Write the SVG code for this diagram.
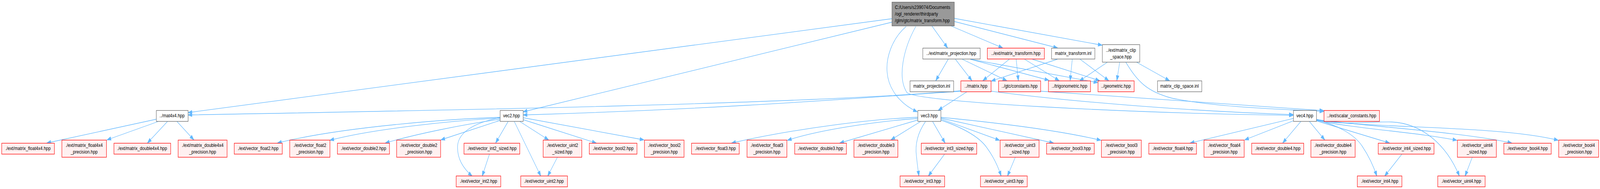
<svg xmlns="http://www.w3.org/2000/svg" width="5133" height="485" viewBox="0 0 5133 485">
<style>
.t{font-family:"Liberation Sans",Arial,sans-serif;font-size:13.33px;fill:#000;text-anchor:middle}
.tl{font-family:"Liberation Sans",Arial,sans-serif;font-size:13.33px;fill:#000}
.w{fill:#fff;stroke:#666;stroke-width:1.3}
.r{fill:#fff0f0;stroke:#ff0000;stroke-width:1.3}
.g{fill:#999;stroke:#666;stroke-width:1.3}
.e{fill:none;stroke:#63b8ff;stroke-width:1.3;marker-end:url(#a)}
#fit{width:100vw;height:485px}
</style>
<defs>
<marker id="a" markerUnits="userSpaceOnUse" markerWidth="15" markerHeight="11" refX="13" refY="5" orient="auto" overflow="visible">
<path d="M0,0.5 L13,5 L0,9.5 z" fill="#63b8ff" stroke="#63b8ff" stroke-width="1"/>
</marker>
</defs>
<rect width="100%" height="100%" fill="#fff"/>
<svg id="fit" x="0" y="0" width="5133" height="485" viewBox="0 0 5133 485" preserveAspectRatio="none">
<g id="edges">
<path class="e" d="M2861,48 L603,289"/>
<path class="e" d="M2861,57 L1678,287"/>
<path class="e" d="M2907,68 C2860,100 2842,150 2846,185 C2850,230 2890,268 2943,287"/>
<path class="e" d="M2938,68 C2898,125 2878,200 2910,238 C2950,262 3600,290 4149,296"/>
<path class="e" d="M2990,67 L3040,123"/>
<path class="e" d="M3052,67 L3217,123"/>
<path class="e" d="M3061,55 L3393,123"/>
<path class="e" d="M3061,47 L3536,116"/>
<path class="e" d="M3042,152 L3002,207"/>
<path class="e" d="M3065,152 L3118,207"/>
<path class="e" d="M3087,152 L3230,207"/>
<path class="e" d="M3113,152 L3365,206"/>
<path class="e" d="M3113,152 L3522,212"/>
<path class="e" d="M3238,152 L3153,207"/>
<path class="e" d="M3260,152 L3267,207"/>
<path class="e" d="M3287,152 L3398,207"/>
<path class="e" d="M3312,152 L3528,207"/>
<path class="e" d="M3392,152 L3180,208"/>
<path class="e" d="M3440,152 L3433,207"/>
<path class="e" d="M3465,152 L3557,207"/>
<path class="e" d="M3552,160 L3463,208"/>
<path class="e" d="M3592,160 L3583,207"/>
<path class="e" d="M3647,160 L3752,207"/>
<path class="e" d="M3612,160 C3650,210 3680,235 3760,252 C3900,275 4100,280 4247,286"/>
<path class="e" d="M3338,234 C3600,247 3950,268 4247,284"/>
<path class="e" d="M3082,233 C2600,266 1500,282 603,295"/>
<path class="e" d="M3082,234 C2700,255 2300,280 1678,295"/>
<path class="e" d="M3103,235 L3010,283"/>
<path class="e" d="M3179,234 C3400,258 3800,285 4149,294"/>
<path class="e" d="M501,306 L150,367"/>
<path class="e" d="M507,312 L343,359"/>
<path class="e" d="M537,312 L473,367"/>
<path class="e" d="M568,312 L622,359"/>
<path class="e" d="M1604,301 C1450,305 1100,325 890,367"/>
<path class="e" d="M1604,303 C1450,310 1200,330 1058,360"/>
<path class="e" d="M1604,306 C1480,320 1330,345 1236,367"/>
<path class="e" d="M1604,309 L1414,359"/>
<path class="e" d="M1604,302 C1520,315 1470,340 1468,375 C1466,410 1490,435 1515,452"/>
<path class="e" d="M1630,312 L1590,367"/>
<path class="e" d="M1570,396 L1547,452"/>
<path class="e" d="M1650,312 L1735,452"/>
<path class="e" d="M1668,312 L1760,359"/>
<path class="e" d="M1788,404 L1757,452"/>
<path class="e" d="M1678,307 L1913,367"/>
<path class="e" d="M1678,302 L2066,359"/>
<path class="e" d="M2944,301 C2800,305 2550,330 2347,367"/>
<path class="e" d="M2944,304 C2800,312 2620,335 2526,360"/>
<path class="e" d="M2944,308 L2694,367"/>
<path class="e" d="M2953,312 L2858,359"/>
<path class="e" d="M2969,312 C2945,340 2935,370 2940,400 C2943,425 2946,440 2948,452"/>
<path class="e" d="M2992,312 L3032,367"/>
<path class="e" d="M3030,396 L2978,452"/>
<path class="e" d="M3018,308 C3090,328 3140,350 3165,378 C3190,405 3203,430 3212,452"/>
<path class="e" d="M3018,305 L3207,360"/>
<path class="e" d="M3257,404 L3232,452"/>
<path class="e" d="M3018,303 L3380,367"/>
<path class="e" d="M3018,301 C3200,315 3400,335 3532,360"/>
<path class="e" d="M4149,304 L3818,367"/>
<path class="e" d="M4149,310 L3993,359"/>
<path class="e" d="M4173,312 L4115,367"/>
<path class="e" d="M4201,312 L4250,359"/>
<path class="e" d="M4223,308 C4290,320 4345,345 4370,375 C4395,405 4408,430 4417,452"/>
<path class="e" d="M4223,310 L4458,367"/>
<path class="e" d="M4497,396 L4442,452"/>
<path class="e" d="M4223,307 C4300,322 4380,312 4463,313 C4560,316 4640,370 4682,452"/>
<path class="e" d="M4223,309 C4350,330 4550,340 4674,360"/>
<path class="e" d="M4723,404 L4700,452"/>
<path class="e" d="M4223,307 C4400,325 4700,340 4850,367"/>
<path class="e" d="M4223,306 C4350,330 4800,320 4999,360"/>
</g>
<g id="n0"><rect class="g" x="2861.5" y="5.5" width="200" height="61"/><text class="tl" x="2871" y="23">C:/Users/s239074/Documents</text><text class="tl" x="2871" y="40">/ogl_renderer/thirdparty</text><text class="tl" x="2871" y="57">/glm/gtc/matrix_transform.hpp</text></g>
<g id="n_proj"><rect class="w" x="2960.5" y="123.5" width="184" height="28"/><text class="t" x="3052" y="141">../ext/matrix_projection.hpp</text></g>
<g id="n_extmt"><rect class="r" x="3167.5" y="123.5" width="183" height="28"/><text class="t" x="3259" y="141">../ext/matrix_transform.hpp</text></g>
<g id="n_inl"><rect class="w" x="3373.5" y="123.5" width="139" height="28"/><text class="t" x="3443" y="141">matrix_transform.inl</text></g>
<g id="n_clip"><rect class="w" x="3536.5" y="114.5" width="120" height="45"/><text class="t" x="3596" y="133">../ext/matrix_clip</text><text class="t" x="3596" y="150">_space.hpp</text></g>
<g id="n_projinl"><rect class="w" x="2919.5" y="207.5" width="140" height="28"/><text class="t" x="2989" y="225">matrix_projection.inl</text></g>
<g id="n_matrix"><rect class="r" x="3082.5" y="207.5" width="97" height="28"/><text class="t" x="3131" y="225">../matrix.hpp</text></g>
<g id="n_const"><rect class="r" x="3203.5" y="207.5" width="135" height="28"/><text class="t" x="3271" y="225">../gtc/constants.hpp</text></g>
<g id="n_trig"><rect class="r" x="3363.5" y="207.5" width="135" height="28"/><text class="t" x="3431" y="225">../trigonometric.hpp</text></g>
<g id="n_geom"><rect class="r" x="3522.5" y="207.5" width="116" height="28"/><text class="t" x="3580" y="225">../geometric.hpp</text></g>
<g id="n_clipinl"><rect class="w" x="3713.5" y="207.5" width="142" height="28"/><text class="t" x="3784" y="225">matrix_clip_space.inl</text></g>
<g id="n_mat4"><rect class="w" x="501.5" y="283.5" width="102" height="28"/><text class="t" x="552" y="301">../mat4x4.hpp</text></g>
<g id="n_vec2"><rect class="w" x="1604.5" y="283.5" width="74" height="28"/><text class="t" x="1641" y="301">vec2.hpp</text></g>
<g id="n_vec3"><rect class="w" x="2944.5" y="283.5" width="74" height="28"/><text class="t" x="2981" y="301">vec3.hpp</text></g>
<g id="n_vec4"><rect class="w" x="4149.5" y="283.5" width="74" height="28"/><text class="t" x="4186" y="301">vec4.hpp</text></g>
<g id="n_scal"><rect class="r" x="4247.5" y="283.5" width="178" height="28"/><text class="t" x="4336" y="301">../ext/scalar_constants.hpp</text></g>
<g id="n_mf44"><rect class="r" x="5.5" y="367.5" width="169" height="28"/><text class="t" x="90" y="385">./ext/matrix_float4x4.hpp</text></g>
<g id="n_mf44p"><rect class="r" x="198.5" y="359.5" width="143" height="44"/><text class="t" x="270" y="377">./ext/matrix_float4x4</text><text class="t" x="270" y="394">_precision.hpp</text></g>
<g id="n_md44"><rect class="r" x="365.5" y="367.5" width="182" height="28"/><text class="t" x="456" y="385">./ext/matrix_double4x4.hpp</text></g>
<g id="n_md44p"><rect class="r" x="571.5" y="359.5" width="157" height="44"/><text class="t" x="650" y="377">./ext/matrix_double4x4</text><text class="t" x="650" y="394">_precision.hpp</text></g>
<g id="n_vf2"><rect class="r" x="751.5" y="367.5" width="154" height="28"/><text class="t" x="828" y="385">./ext/vector_float2.hpp</text></g>
<g id="n_vf2p"><rect class="r" x="929.5" y="359.5" width="129" height="44"/><text class="t" x="994" y="377">./ext/vector_float2</text><text class="t" x="994" y="394">_precision.hpp</text></g>
<g id="n_vd2"><rect class="r" x="1082.5" y="367.5" width="167" height="28"/><text class="t" x="1166" y="385">./ext/vector_double2.hpp</text></g>
<g id="n_vd2p"><rect class="r" x="1272.5" y="359.5" width="141" height="44"/><text class="t" x="1343" y="377">./ext/vector_double2</text><text class="t" x="1343" y="394">_precision.hpp</text></g>
<g id="n_vi2s"><rect class="r" x="1488.5" y="367.5" width="179" height="28"/><text class="t" x="1578" y="385">./ext/vector_int2_sized.hpp</text></g>
<g id="n_vu2s"><rect class="r" x="1742.5" y="359.5" width="124" height="44"/><text class="t" x="1804" y="377">./ext/vector_uint2</text><text class="t" x="1804" y="394">_sized.hpp</text></g>
<g id="n_vb2"><rect class="r" x="1890.5" y="367.5" width="153" height="28"/><text class="t" x="1967" y="385">./ext/vector_bool2.hpp</text></g>
<g id="n_vb2p"><rect class="r" x="2067.5" y="359.5" width="127" height="44"/><text class="t" x="2131" y="377">./ext/vector_bool2</text><text class="t" x="2131" y="394">_precision.hpp</text></g>
<g id="n_vf3"><rect class="r" x="2218.5" y="367.5" width="153" height="28"/><text class="t" x="2295" y="385">./ext/vector_float3.hpp</text></g>
<g id="n_vf3p"><rect class="r" x="2396.5" y="359.5" width="128" height="44"/><text class="t" x="2460" y="377">./ext/vector_float3</text><text class="t" x="2460" y="394">_precision.hpp</text></g>
<g id="n_vd3"><rect class="r" x="2549.5" y="367.5" width="166" height="28"/><text class="t" x="2632" y="385">./ext/vector_double3.hpp</text></g>
<g id="n_vd3p"><rect class="r" x="2739.5" y="359.5" width="141" height="44"/><text class="t" x="2810" y="377">./ext/vector_double3</text><text class="t" x="2810" y="394">_precision.hpp</text></g>
<g id="n_vi3s"><rect class="r" x="2955.5" y="367.5" width="178" height="28"/><text class="t" x="3044" y="385">./ext/vector_int3_sized.hpp</text></g>
<g id="n_vu3s"><rect class="r" x="3208.5" y="359.5" width="125" height="44"/><text class="t" x="3271" y="377">./ext/vector_uint3</text><text class="t" x="3271" y="394">_sized.hpp</text></g>
<g id="n_vb3"><rect class="r" x="3357.5" y="367.5" width="153" height="28"/><text class="t" x="3434" y="385">./ext/vector_bool3.hpp</text></g>
<g id="n_vb3p"><rect class="r" x="3533.5" y="359.5" width="128" height="44"/><text class="t" x="3597" y="377">./ext/vector_bool3</text><text class="t" x="3597" y="394">_precision.hpp</text></g>
<g id="n_vf4"><rect class="r" x="3685.5" y="367.5" width="153" height="28"/><text class="t" x="3762" y="385">./ext/vector_float4.hpp</text></g>
<g id="n_vf4p"><rect class="r" x="3862.5" y="359.5" width="129" height="44"/><text class="t" x="3927" y="377">./ext/vector_float4</text><text class="t" x="3927" y="394">_precision.hpp</text></g>
<g id="n_vd4"><rect class="r" x="4015.5" y="367.5" width="167" height="28"/><text class="t" x="4099" y="385">./ext/vector_double4.hpp</text></g>
<g id="n_vd4p"><rect class="r" x="4205.5" y="359.5" width="142" height="44"/><text class="t" x="4276" y="377">./ext/vector_double4</text><text class="t" x="4276" y="394">_precision.hpp</text></g>
<g id="n_vi4s"><rect class="r" x="4421.5" y="367.5" width="179" height="28"/><text class="t" x="4511" y="385">./ext/vector_int4_sized.hpp</text></g>
<g id="n_vu4s"><rect class="r" x="4675.5" y="359.5" width="125" height="44"/><text class="t" x="4738" y="377">./ext/vector_uint4</text><text class="t" x="4738" y="394">_sized.hpp</text></g>
<g id="n_vb4"><rect class="r" x="4824.5" y="367.5" width="152" height="28"/><text class="t" x="4900" y="385">./ext/vector_bool4.hpp</text></g>
<g id="n_vb4p"><rect class="r" x="5000.5" y="359.5" width="128" height="44"/><text class="t" x="5064" y="377">./ext/vector_bool4</text><text class="t" x="5064" y="394">_precision.hpp</text></g>
<g id="n_vi2"><rect class="r" x="1463.5" y="451.5" width="143" height="28"/><text class="t" x="1535" y="469">./ext/vector_int2.hpp</text></g>
<g id="n_vu2"><rect class="r" x="1670.5" y="451.5" width="150" height="28"/><text class="t" x="1745" y="469">./ext/vector_uint2.hpp</text></g>
<g id="n_vi3"><rect class="r" x="2887.5" y="451.5" width="143" height="28"/><text class="t" x="2959" y="469">./ext/vector_int3.hpp</text></g>
<g id="n_vu3"><rect class="r" x="3145.5" y="451.5" width="150" height="28"/><text class="t" x="3220" y="469">./ext/vector_uint3.hpp</text></g>
<g id="n_vi4"><rect class="r" x="4354.5" y="451.5" width="143" height="28"/><text class="t" x="4426" y="469">./ext/vector_int4.hpp</text></g>
<g id="n_vu4"><rect class="r" x="4612.5" y="451.5" width="152" height="28"/><text class="t" x="4688" y="469">./ext/vector_uint4.hpp</text></g>
</svg>
</svg>
